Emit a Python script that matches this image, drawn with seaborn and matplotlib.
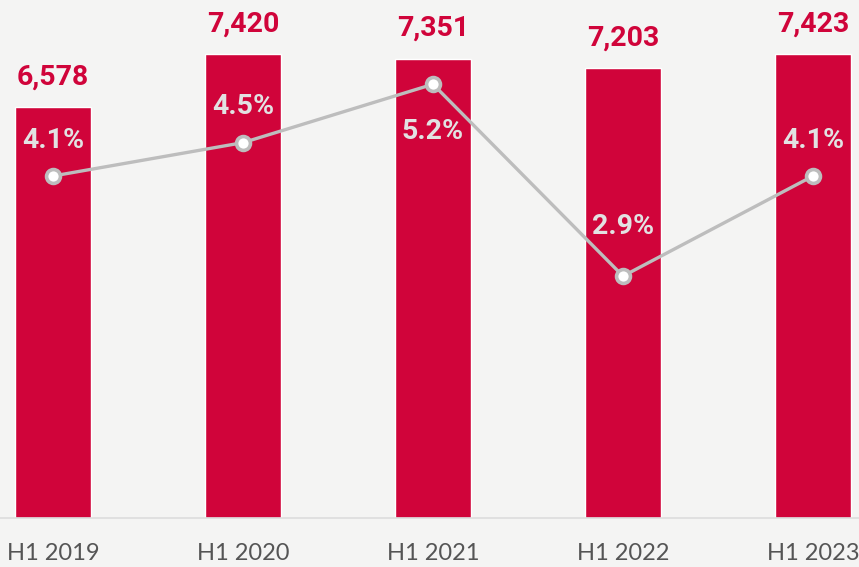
import numpy as np
import matplotlib
matplotlib.use("Agg")
import matplotlib.pyplot as plt
import seaborn as sns

# Dados
periodos = ["H1 2019", "H1 2020", "H1 2021", "H1 2022", "H1 2023"]
valores = [6578, 7420, 7351, 7203, 7423]
margem_pct = [4.1, 4.5, 5.2, 2.9, 4.1]

VERMELHO = "#D0043A"
CINZA_LINHA = "#BDBDBD"
FUNDO = "#F4F4F3"
FONTE_NEGRITO = ["Roboto", "DejaVu Sans"]

sns.set_theme(style="white")
plt.rcParams["font.family"] = ["Lato", "DejaVu Sans"]

fig = plt.figure(figsize=(8.59, 5.67), dpi=100)
fig.patch.set_facecolor(FUNDO)
ax = fig.add_axes([0, 49 / 567, 1, 518 / 567])
ax.set_facecolor("none")

sns.barplot(x=periodos, y=valores, color=VERMELHO, width=0.4,
            saturation=1, ax=ax)
ax.set_ylim(0, 8290)
ax.set_xlim(-0.279, 4.242)

for i, v in enumerate(valores):
    ax.annotate(f"{v:,}", (i, v), xytext=(0, 12), textcoords="offset points",
                ha="center", va="bottom", fontsize=20.5, fontweight="bold",
                color=VERMELHO, family=FONTE_NEGRITO)

# Eixo secundario para a margem (%)
ax2 = ax.twinx()
x_pos = np.arange(len(periodos))
sns.lineplot(x=x_pos, y=margem_pct, ax=ax2, color=CINZA_LINHA, linewidth=2.4,
             marker="o", markersize=10, markerfacecolor="white",
             markeredgecolor=CINZA_LINHA, markeredgewidth=2.6)
ax2.set_ylim(0, 6.21)
ax2.set_xlim(-0.279, 4.242)

# rotulo do maximo abaixo do marcador; o do minimo um pouco mais alto
for i, p in enumerate(margem_pct):
    if p == max(margem_pct):
        dy, va = -24, "top"
    elif p == min(margem_pct):
        dy, va = 26, "bottom"
    else:
        dy, va = 16, "bottom"
    ax2.annotate(f"{p}%", (i, p), xytext=(0, dy), textcoords="offset points",
                 ha="center", va=va, fontsize=20.5, fontweight="bold",
                 color="#E2E2E2", family=FONTE_NEGRITO)

for a in (ax, ax2):
    for s in ("top", "left", "right"):
        a.spines[s].set_visible(False)
    a.set_yticks([])
    a.set_ylabel("")
ax2.spines["bottom"].set_visible(False)
ax.spines["bottom"].set_color("#DDDDDD")
ax.spines["bottom"].set_linewidth(1.2)

ax.tick_params(axis="x", length=0, pad=18, labelsize=17, labelcolor="#555555")

fig.savefig("out.png", dpi=100, facecolor=FUNDO)
